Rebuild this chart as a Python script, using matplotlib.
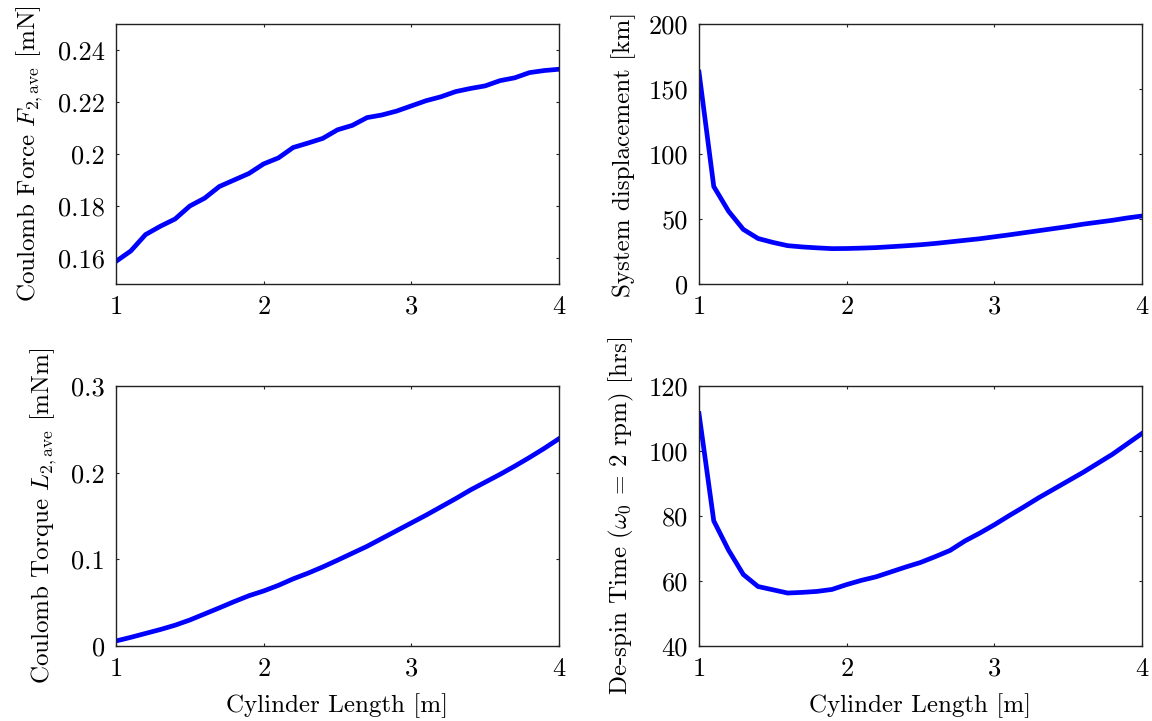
import numpy as np
import matplotlib
matplotlib.use("Agg")
import matplotlib.pyplot as plt
from matplotlib.ticker import FuncFormatter

plt.rcParams['font.family'] = 'serif'
plt.rcParams['font.serif'] = ['cmr10']
plt.rcParams['mathtext.fontset'] = 'cm'
plt.rcParams['axes.formatter.use_mathtext'] = True

# cylinder length [m]
length = [1.0, 1.1, 1.2, 1.3, 1.4, 1.5, 1.6, 1.7, 1.8, 1.9, 2.0,
          2.1, 2.2, 2.3, 2.4, 2.5, 2.6, 2.7, 2.8, 2.9, 3.0,
          3.1, 3.2, 3.3, 3.4, 3.5, 3.6, 3.7, 3.8, 3.9, 4.0]

force = [0.1587, 0.1627, 0.1690, 0.1722, 0.1750, 0.1800, 0.1830, 0.1875, 0.1900, 0.1925, 0.1962,
         0.1985, 0.2025, 0.2042, 0.2060, 0.2093, 0.2110, 0.2140, 0.2150, 0.2165, 0.2185,
         0.2205, 0.2220, 0.2240, 0.2252, 0.2262, 0.2282, 0.2293, 0.2313, 0.2321, 0.2326]

displacement = [163.0, 75.0, 56.0, 42.0, 35.0, 32.0, 29.5, 28.5, 27.8, 27.2, 27.3,
                27.6, 28.0, 28.7, 29.4, 30.2, 31.2, 32.4, 33.6, 34.8, 36.3,
                37.8, 39.4, 41.0, 42.6, 44.2, 46.0, 47.5, 49.0, 50.8, 52.3]

torque = [0.0058, 0.0100, 0.0145, 0.0190, 0.0240, 0.0300, 0.0370, 0.0440, 0.0512, 0.0580, 0.0635,
          0.0700, 0.0775, 0.0840, 0.0912, 0.0990, 0.1070, 0.1150, 0.1240, 0.1330, 0.1420,
          0.1510, 0.1605, 0.1700, 0.1800, 0.1890, 0.1980, 0.2075, 0.2175, 0.2280, 0.2392]

despin = [111.5, 78.5, 69.5, 62.0, 58.3, 57.3, 56.3, 56.5, 56.8, 57.4, 58.9,
          60.2, 61.3, 62.8, 64.3, 65.7, 67.5, 69.4, 72.3, 74.7, 77.3,
          80.1, 82.8, 85.6, 88.2, 90.8, 93.4, 96.2, 99.0, 102.2, 105.4]

W, H = 1152, 721
fig = plt.figure(figsize=(W / 100, H / 100), dpi=100)


def add_ax(x0, y0, x1, y1):
    return fig.add_axes([x0 / W, 1 - y1 / H, (x1 - x0) / W, (y1 - y0) / H])


ax1 = add_ax(116, 24, 559, 284)
ax2 = add_ax(699, 24, 1142, 284)
ax3 = add_ax(116, 386, 559, 646)
ax4 = add_ax(699, 386, 1142, 646)

panels = [
    (ax1, force, (0.15, 0.25), [0.16, 0.18, 0.2, 0.22, 0.24],
     r'Coulomb Force $F_{2,\mathrm{ave}}$ [mN]'),
    (ax2, displacement, (0, 200), [0, 50, 100, 150, 200],
     'System displacement [km]'),
    (ax3, torque, (0, 0.3), [0, 0.1, 0.2, 0.3],
     r'Coulomb Torque $L_{2,\mathrm{ave}}$ [mNm]'),
    (ax4, despin, (40, 120), [40, 60, 80, 100, 120],
     r'De-spin Time ($\omega_0$ = 2 rpm) [hrs]'),
]

for ax, vals, ylim, yticks, ylabel in panels:
    ax.plot(length, vals, color='#0000ff', linewidth=3.4, solid_joinstyle='miter')
    ax.set_xlim(1, 4)
    ax.set_ylim(*ylim)
    ax.set_xticks([1, 2, 3, 4])
    ax.set_yticks(yticks)
    ax.yaxis.set_major_formatter(FuncFormatter(lambda v, p: '%g' % v))
    ax.tick_params(direction='in', top=True, right=True, length=2.5, width=0.8,
                   color='#222222', labelsize=19, pad=8)
    ax.set_ylabel(ylabel, fontsize=18, labelpad=9)
    for s in ax.spines.values():
        s.set_linewidth(1.0)
        s.set_color('#222222')

ax3.set_xlabel('Cylinder Length [m]', fontsize=18, labelpad=9)
ax4.set_xlabel('Cylinder Length [m]', fontsize=18, labelpad=9)

fig.savefig('out.png', dpi=100)
